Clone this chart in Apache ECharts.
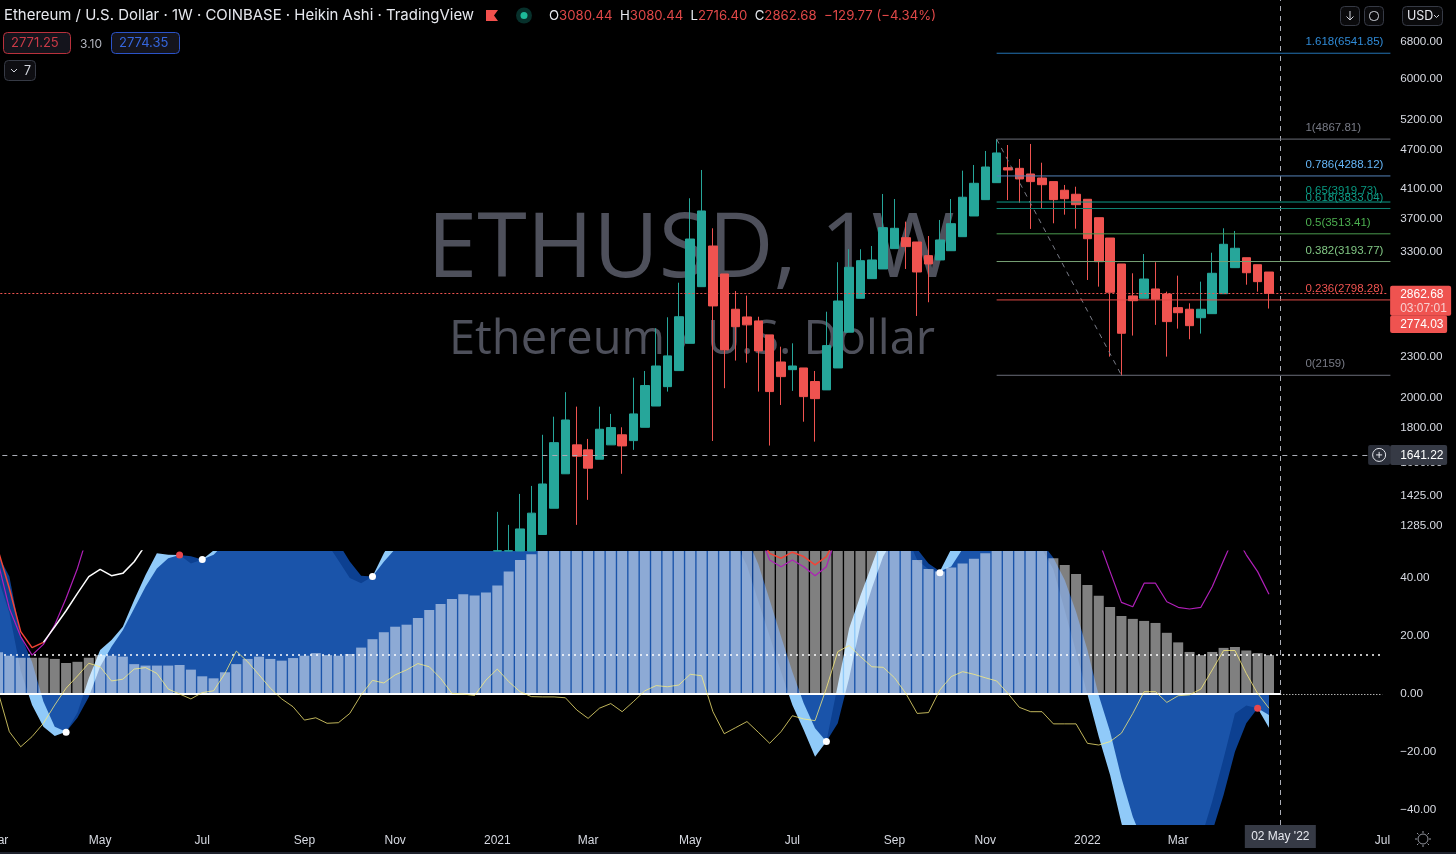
<!DOCTYPE html>
<html>
<head>
<meta charset="utf-8">
<style>
  html, body { margin: 0; padding: 0; background: #000; }
  #main { width: 1456px; height: 854px; }
</style>
<script src="https://cdn.jsdelivr.net/npm/echarts@6/dist/echarts.min.js"></script>
</head>
<body>
<div id="main"></div>
<script>
// weekly bars, first one is 02 Mar 2020
var firstWeek = Date.UTC(2020, 2, 2);
var weekCount = 123;
var monthNames = ['Jan', 'Feb', 'Mar', 'Apr', 'May', 'Jun', 'Jul', 'Aug', 'Sep', 'Oct', 'Nov', 'Dec'];

var xTickIndex = [0, 9, 18, 27, 35, 44, 52, 61, 70, 79, 87, 96, 104, 122];
var xTickLabel = ['Mar', 'May', 'Jul', 'Sep', 'Nov', '2021', 'Mar', 'May', 'Jul', 'Sep', 'Nov', '2022', 'Mar', 'Jul'];
var priceTicks = [6800, 6000, 5200, 4700, 4100, 3700, 3300, 2600, 2300, 2000, 1800, 1600, 1425, 1285];
var oscTicks = [40, 20, 0, -20, -40];

// candles start at bar 44, the older ones are below the pane
// the first four bodies run under the lower pane, so they stop at the pane edge (1179)
var candleStart = 44;
var candleOpen = [1179,1179,1179,1179,1248,1366,1538,1699,1670,1617,1699,1759,1724,1805,1942,2076,2194,2410,2929,3369,3060,2710,2639,2603,2481,2260,2201,2214,2113,2053,2214,2504,2814,3011,3113,3339,3467,3416,3259,3211,3315,3479,3736,3952,4190,4411,4402,4317,4258,4205,4082,4026,3957,3714,3463,3167,2837,2814,2906,2856,2725,2710,2632,2669,2859,3127,3236,3159,3080.44];
var candleClose = [1180,1180,1272,1343,1485,1712,1851,1634,1568,1793,1803,1693,1890,2084,2229,2308,2641,3451,3801,2741,2356,2552,2568,2348,2041,2149,2229,2006,1992,2391,2788,3131,3203,3211,3589,3581,3362,3081,3167,3440,3638,3985,4181,4422,4641,4377,4244,4205,4161,3952,3965,3884,3455,3192,2873,2495,2791,3007,2805,2597,2678,2561,2710,3067,3389,3343,3073,2980,2862.68];
var candleLow = [1179,1179,1179,1179,1248,1366,1538,1290,1406,1617,1699,1538,1670,1805,1942,2041,2194,2410,2929,1722,2065,2271,2255,2041,1695,1949,2046,1840,1718,2053,2214,2504,2814,3011,3113,3339,3113,2648,2776,3211,3315,3479,3736,3952,4190,3947,3911,3573,3827,3643,3753,3576,2997,2929,2302,2156,2475,2814,2568,2302,2535,2444,2492,2669,2859,3127,2949,2879,2716.40];
var candleHigh = [1349,1290,1435,1475,1759,1872,2037,1938,1734,1938,1890,1805,2141,2191,2538,2636,2969,3971,4377,3581,3060,2886,2840,2641,2481,2382,2410,2214,2191,2687,3186,3332,3332,3369,4030,3961,3664,3416,3487,3685,3961,4367,4453,4673,4869,4770,4546,4787,4488,4205,4157,4132,3957,3714,3463,3167,3067,3277,3186,2879,3042,2766,2980,3292,3581,3548,3236,3159,3080.44];

// fib levels
var fibRatio = ['1.618', '1', '0.786', '0.65', '0.618', '0.5', '0.382', '0.236', '0'];
var fibPrice = ['6541.85', '4867.81', '4288.12', '3919.73', '3833.04', '3513.41', '3193.77', '2798.28', '2159'];
var fibColor = ['#2f8ad6', '#787b86', '#64b5f6', '#089981', '#0f9d88', '#4caf50', '#81c784', '#ef5350', '#787b86'];
var fibLineColor = ['#2372b4', '#6a6d78', '#5583b8', '#0e9a89', '#0f8474', '#4a9a4e', '#76a174', '#e04a46', '#6a6d78'];

// oscillator pane
var histValues = [14.4,13.2,12.5,12.5,12.5,12.1,10.7,11.1,12.5,13.4,13.2,12.9,10.3,9.8,9.8,9.8,10,8.4,6.1,5.4,7.5,10.3,12.1,12.9,12.1,11.5,12.4,13.2,14.1,13.4,13.2,13.8,16,18.9,21.3,23.2,23.9,26.2,29,31,32.8,34.4,34,35,37.4,42.2,46.2,48.2,52,55,58,60,62,64,66,68,69,70,71,72,73,72,71,70,69,68,67,66,65,64,63,62,61,60,59,58,57,55,53,51,50,46.2,43.1,42.2,43.6,45,46.6,48.5,50,52,53,52,50,46.8,44.5,41.4,37.6,33.9,30,26.9,25.9,25.2,24.5,21.1,17.8,14.5,13.4,14.5,15.9,16.2,15,14.1,13.4];
var wave1 = [40,28,8,-3.8,-11.3,-14.5,-13,-6.5,5.4,15.2,18.6,23.2,32.4,41,48.5,48,47.9,45,46.4,49.5,55,60,64,66,68,68,66,62,57,52,46,40,38.2,40.5,48.5,55,60,66,71,74,76,77,78,79,80,81,82,82,83,84,84,85,84,84,83,83,82,81,80,78,76,72,67,62,56,52,44.3,32,20,7.7,-3.8,-12.4,-21.6,-16.4,3,22.6,34,44.5,55,60,55,46.2,43,42.3,50,54,58,62,64,64,62,55,50,43,29,14.6,0,-14.7,-27.9,-44.6,-58,-64,-66,-66,-62,-56,-50,-37,-22.2,-6.7,-4,-4.9,-11.6];
var wave2 = [48,40.5,20.3,11,-2.6,-11.3,-13,-8.2,-1,9.4,16.3,22,29.5,37,43.3,46.8,47.9,47.5,46.4,48,52,56,60,63,66,68,68,66,62,58,52,45.7,40.8,40.5,45.6,50,55,60,65,69,72,74,75,76,77,78,79,80,80,81,82,82,83,83,83,83,82,82,81,80,78,76,72,68,62,58,54,44.7,32.4,19.8,7.7,-3.2,-11.8,-16.4,-10.1,5.4,23.8,36.4,47.4,54,56,50,45,42.3,44,50,54,58,62,64,63,60,52,47,39.3,28.4,15.2,-0.5,-13,-29,-42.3,-52,-58,-62,-64,-62,-56,-47.5,-34.8,-19.9,-10.1,-4.9,-7.2];
var yellowLine = [0.8,-13,-18.2,-14.7,-10.1,-3.8,2,6.2,10.6,9.4,4.5,5.1,8.6,9.1,7.1,1.7,0,-1.7,0.5,1.1,7.1,14.8,11.1,6.6,2,-1.7,-4.4,-9,-8.2,-10.1,-9.9,-6.7,-0.3,4.7,3.8,6.6,8.3,10.5,9.4,5.4,0.2,0,-0.5,4.8,8.6,4.3,0.8,-0.9,-1,-1,-1.3,-5.5,-8.4,-4.9,-3.3,-6.1,-2.6,1.1,2.9,2.5,3.1,6.8,6.3,-6.1,-13.7,-11.6,-9.5,-13.2,-17,-13,-7.5,-8.6,-9.2,2,14.6,16.7,12.9,9.4,9.2,5.6,0.2,-6.7,-6.4,1.4,6,7.7,6.8,5.6,4.5,0.2,-4.6,-6.1,-6.1,-10.3,-10.3,-10.3,-17,-17.6,-16.4,-13.5,-6.7,0.8,0.8,-2.9,-0.6,-0.3,1.7,8.3,15,15,7.1,0.2,-4.9];

// the upper lines leave the pane, only the visible stretches are kept as [bar, value]
var magentaLine = [[0,45.6],[1,29.5],[2,19.8],[3,13.4],[4,17.1],[5,23.8],[6,33],[7,43.3],[8,56],null,[67,56],[68,46.2],[69,43.9],[70,46.2],[71,43.9],[72,40.8],[73,43.9],[74,56],null,[96,60],[97,53],[98,42.2],[99,31.6],[100,30.1],[101,38.2],[102,38.2],[103,31.8],[104,29.9],[105,29.3],[106,29.9],[107,37],[108,46],[109,55],[110,48],[111,42.2],[112,34.4]];
var redLine = [[0,49.7],[1,36.4],[2,21.5],[3,16],[4,17.8],null,[67,55],[68,48.5],[69,46.8],[70,48.9],[71,47.4],[72,44.5],[73,47.4],[74,55]];
var whiteLine = [[4,17.8],[5,23.2],[6,28.7],[7,34.7],[8,40.5],[9,43],[10,40.8],[11,41.6],[12,45.6],[13,51.4]];
var whiteDots = [[6,-13.2],[18,46.4],[33,40.5],[73,-16.4],[83,41.8]];
var redDots = [[16,47.9],[111,-4.9]];

var lastClose = 2862.68;
var lastHeikin = 2774.03;
var crossPrice = 1641.22;
var crossBar = 113;

var categories = [];
for (var w = 0; w < weekCount; w++) {
    var d = new Date(firstWeek + w * 7 * 86400000);
    categories.push(('0' + d.getUTCDate()).slice(-2) + ' ' + monthNames[d.getUTCMonth()] + " '" + String(d.getUTCFullYear()).slice(2));
}

var candleData = [];
for (var c = 0; c < candleStart; c++) {
    candleData.push(['-', '-', '-', '-']);
}
for (var k = 0; k < candleOpen.length; k++) {
    candleData.push([candleOpen[k], candleClose[k], candleLow[k], candleHigh[k]]);
}

var UP = '#26a69a';
var DOWN = '#ef5350';
var AXIS_TEXT = '#d7dae2';
var AXIS_FONT = '"Liberation Sans", sans-serif';
var HEAD_FONT = 'Inter, sans-serif';

function pairData(list) {
    return list.map(function (p) {
        return p ? [categories[p[0]], p[1]] : [null, null];
    });
}

function box(x, y, w, h, stroke, fill) {
    return {
        type: 'rect', z: 20, silent: true,
        shape: { x: x, y: y, width: w, height: h, r: 4 },
        style: { fill: fill || 'none', stroke: stroke, lineWidth: 1 }
    };
}

function label(x, y, text, color, size, font) {
    return {
        type: 'text', z: 21, silent: true, x: x, y: y,
        style: { text: text, fill: color, font: (size || 13) + 'px ' + (font || HEAD_FONT), textVerticalAlign: 'middle' }
    };
}

function stroke(shapeType, shape, color, width) {
    return {
        type: shapeType, z: 21, silent: true, shape: shape,
        style: { fill: 'none', stroke: color, lineWidth: width || 1 }
    };
}

var graphics = [
    // watermark
    { type: 'text', z: -1, silent: true, x: 691, y: 251, style: { text: 'ETHUSD, 1W', fill: '#4e505b', font: '90px "Open Sans", sans-serif', textAlign: 'center', textVerticalAlign: 'middle' } },
    { type: 'text', z: -1, silent: true, x: 692, y: 341, style: { text: 'Ethereum / U.S. Dollar', fill: '#4e505b', font: '47px "Open Sans", sans-serif', textAlign: 'center', textVerticalAlign: 'middle' } },

    // header
    label(4, 15.5, 'Ethereum / U.S. Dollar · 1W · COINBASE · Heikin Ashi · TradingView', '#e6e8ee', 14.95),
    { type: 'polygon', z: 21, silent: true, shape: { points: [[486, 10], [498, 10], [494, 15.5], [498, 21], [486, 21]] }, style: { fill: '#f2504d' } },
    { type: 'circle', z: 21, silent: true, shape: { cx: 524, cy: 15.5, r: 8 }, style: { fill: '#07302b' } },
    { type: 'circle', z: 21, silent: true, shape: { cx: 524, cy: 15.5, r: 3.5 }, style: { fill: '#1db999' } },
    {
        type: 'text', z: 21, silent: true, x: 549, y: 16,
        style: {
            text: '{w|O}{r|3080.44}  {w|H}{r|3080.44}  {w|L}{r|2716.40}  {w|C}{r|2862.68}  {r|−129.77 (−4.34%)}',
            font: '13.2px ' + HEAD_FONT, textVerticalAlign: 'middle',
            rich: {
                w: { fill: '#e6e8ee', font: '13.2px ' + HEAD_FONT },
                r: { fill: '#e04848', font: '13.2px ' + HEAD_FONT }
            }
        }
    },

    // bid / ask boxes
    box(3.5, 32.5, 67, 21, '#b8313c', '#14141c'),
    label(11, 43.5, '2771.25', '#c93a47', 13),
    label(80, 44, '3.10', '#b2b5be', 12),
    box(111.5, 32.5, 68, 21, '#2b53c8', '#14141c'),
    label(119, 43.5, '2774.35', '#3566dd', 13),
    box(4.5, 60.5, 31, 20, '#363a45', '#0e0e12'),
    { type: 'polyline', z: 21, silent: true, shape: { points: [[11, 69], [14, 72], [17, 69]] }, style: { fill: 'none', stroke: '#d1d4dc', lineWidth: 1 } },
    label(24, 71, '7', '#d1d4dc', 12.5),

    // top right buttons
    box(1340.5, 6.5, 19, 19, '#363a45', '#0a0a0c'),
    stroke('line', { x1: 1350, y1: 11, x2: 1350, y2: 20 }, '#d1d4dc'),
    { type: 'polyline', z: 21, silent: true, shape: { points: [[1346.5, 16.5], [1350, 20], [1353.5, 16.5]] }, style: { fill: 'none', stroke: '#d1d4dc', lineWidth: 1 } },
    box(1364.5, 6.5, 19, 19, '#363a45', '#0a0a0c'),
    box(1369.5, 11.5, 9, 9, '#d1d4dc'),
    box(1402.5, 6.5, 40, 19, '#363a45', '#0a0a0c'),
    label(1407, 16, 'USD', '#e6e8ee', 12.5),
    { type: 'polyline', z: 21, silent: true, shape: { points: [[1434, 15], [1436.5, 17.5], [1439, 15]] }, style: { fill: 'none', stroke: '#d1d4dc', lineWidth: 1 } },

    // settings gear bottom right
    stroke('circle', { cx: 1423, cy: 839, r: 5 }, '#9598a1'),
    stroke('line', { x1: 1423, y1: 831, x2: 1423, y2: 833 }, '#9598a1'),
    stroke('line', { x1: 1423, y1: 845, x2: 1423, y2: 847 }, '#9598a1'),
    stroke('line', { x1: 1415, y1: 839, x2: 1417, y2: 839 }, '#9598a1'),
    stroke('line', { x1: 1429, y1: 839, x2: 1431, y2: 839 }, '#9598a1'),
    stroke('line', { x1: 1417, y1: 833, x2: 1418.5, y2: 834.5 }, '#9598a1'),
    stroke('line', { x1: 1429, y1: 833, x2: 1427.5, y2: 834.5 }, '#9598a1'),
    stroke('line', { x1: 1417, y1: 845, x2: 1418.5, y2: 843.5 }, '#9598a1'),
    stroke('line', { x1: 1429, y1: 845, x2: 1427.5, y2: 843.5 }, '#9598a1'),
    { type: 'rect', z: 20, silent: true, shape: { x: 0, y: 852, width: 1456, height: 2 }, style: { fill: '#1e222d' } }
];

var myChart = echarts.init(document.getElementById('main'));

var option = {
    animation: false,
    backgroundColor: '#000000',
    textStyle: { fontFamily: AXIS_FONT },
    graphic: { elements: graphics },
    grid: [
        { left: -7.67, top: 0, width: 1395.8, height: 551, outerBoundsMode: 'none' },
        { left: -7.67, top: 551, width: 1395.8, height: 274, outerBoundsMode: 'none' }
    ],
    xAxis: [
        { type: 'category', gridIndex: 0, data: categories, show: false },
        {
            type: 'category', gridIndex: 1, data: categories,
            axisLine: { show: false }, axisTick: { show: false }, splitLine: { show: false },
            axisLabel: {
                color: AXIS_TEXT, fontSize: 12, margin: 10, fontFamily: AXIS_FONT,
                showMinLabel: true, showMaxLabel: true,
                interval: function (i) { return xTickIndex.indexOf(i) >= 0; },
                formatter: function (v, i) { return xTickLabel[xTickIndex.indexOf(i)] || ''; }
            }
        }
    ],
    yAxis: [
        {
            type: 'log', logBase: 10, gridIndex: 0, position: 'right', min: 1179, max: 7858,
            axisLine: { show: false }, axisTick: { show: false }, splitLine: { show: false }, minorTick: { show: false }, minorSplitLine: { show: false },
            axisLabel: {
                color: AXIS_TEXT, fontSize: 11.7, margin: 12, fontFamily: AXIS_FONT, padding: [5, 0, 0, 0],
                customValues: priceTicks,
                formatter: function (v) { return Number(v).toFixed(2); }
            }
        },
        {
            type: 'value', gridIndex: 1, position: 'right', min: -45.17, max: 49.31,
            axisLine: { show: false }, axisTick: { show: false }, splitLine: { show: false },
            axisLabel: {
                color: AXIS_TEXT, fontSize: 11.7, margin: 12, fontFamily: AXIS_FONT, padding: [5, 0, 0, 0],
                customValues: oscTicks,
                formatter: function (v) { return Number(v).toFixed(2).replace('-', '−'); }
            }
        }
    ],
    series: [
        {
            name: 'ETHUSD', type: 'candlestick', xAxisIndex: 0, yAxisIndex: 0, z: 4, clip: true,
            data: candleData, barWidth: 9,
            itemStyle: { color: UP, color0: DOWN, borderColor: UP, borderColor0: DOWN, borderWidth: 1 },
            markLine: {
                silent: true, symbol: 'none', animation: false, label: { show: false },
                data: [
                    { yAxis: lastClose, lineStyle: { color: '#ef5350', type: [2, 2], width: 1 } },
                    { yAxis: crossPrice, lineStyle: { color: '#a9acb5', type: [5, 5], width: 1 } },
                    { xAxis: categories[crossBar], lineStyle: { color: '#a9acb5', type: [5, 5], width: 1 } },
                    [
                        { coord: [categories[88], Number(fibPrice[1])], lineStyle: { color: '#787b86', type: [5, 5], width: 1 } },
                        { coord: [categories[99], Number(fibPrice[8])] }
                    ]
                ]
            }
        },
        {
            // fib levels, drawn from bar 88 to the right edge of the grid
            name: 'fib', type: 'custom', xAxisIndex: 0, yAxisIndex: 0, z: 5, silent: true,
            data: fibPrice.map(function (p) { return [88, Number(p)]; }),
            encode: { x: 0, y: 1 },
            renderItem: function (params, api) {
                var i = params.dataIndex;
                var from = api.coord([api.value(0), api.value(1)]);
                var end = api.coord([122, api.value(1)])[0] + api.size([1, 0])[0] * 0.7;
                return {
                    type: 'group',
                    children: [
                        {
                            type: 'line',
                            shape: { x1: from[0], y1: from[1], x2: end, y2: from[1] },
                            style: { stroke: fibLineColor[i], lineWidth: 1 }
                        },
                        {
                            type: 'text', x: end - 85, y: from[1] - 11,
                            style: { text: fibRatio[i] + '(' + fibPrice[i] + ')', fill: fibColor[i], font: '11.5px ' + AXIS_FONT, textVerticalAlign: 'middle' }
                        }
                    ]
                };
            }
        },
        {
            // price tags on the scale
            name: 'tags', type: 'custom', xAxisIndex: 0, yAxisIndex: 0, z: 10, silent: true,
            data: [[122, lastClose], [122, lastHeikin], [122, crossPrice]],
            encode: { x: 0, y: 1 },
            renderItem: function (params, api) {
                var i = params.dataIndex;
                var y = api.coord([api.value(0), api.value(1)])[1];
                var left = params.coordSys.x + params.coordSys.width + 2;
                if (i === 0) {
                    return {
                        type: 'group', children: [
                            { type: 'rect', shape: { x: left, y: y - 7.5, width: 61, height: 30, r: 2 }, style: { fill: '#ef5350' } },
                            { type: 'text', x: left + 10, y: y + 1.5, style: { text: String(lastClose.toFixed(2)), fill: '#ffffff', font: '12px ' + AXIS_FONT, textVerticalAlign: 'middle' } },
                            { type: 'text', x: left + 10, y: y + 15, style: { text: '03:07:01', fill: '#f8d0d0', font: '12px ' + AXIS_FONT, textVerticalAlign: 'middle' } }
                        ]
                    };
                }
                if (i === 1) {
                    return {
                        type: 'group', children: [
                            { type: 'rect', shape: { x: left, y: y + 13, width: 57, height: 17.5, r: 2 }, style: { fill: '#ef5350' } },
                            { type: 'text', x: left + 10, y: y + 22, style: { text: String(lastHeikin.toFixed(2)), fill: '#ffffff', font: '12px ' + AXIS_FONT, textVerticalAlign: 'middle' } }
                        ]
                    };
                }
                return {
                    type: 'group', children: [
                        { type: 'rect', shape: { x: left - 22, y: y - 10, width: 22, height: 20, r: 2 }, style: { fill: '#2a2e39' } },
                        { type: 'circle', shape: { cx: left - 11, cy: y, r: 6.5 }, style: { fill: 'none', stroke: '#e6e8ee', lineWidth: 1 } },
                        { type: 'line', shape: { x1: left - 14, y1: y, x2: left - 8, y2: y }, style: { stroke: '#e6e8ee', lineWidth: 1 } },
                        { type: 'line', shape: { x1: left - 11, y1: y - 3, x2: left - 11, y2: y + 3 }, style: { stroke: '#e6e8ee', lineWidth: 1 } },
                        { type: 'rect', shape: { x: left, y: y - 10, width: 57, height: 20, r: 2 }, style: { fill: '#363a45' } },
                        { type: 'text', x: left + 10, y: y + 1, style: { text: String(crossPrice.toFixed(2)), fill: '#ffffff', font: '12px ' + AXIS_FONT, textVerticalAlign: 'middle' } }
                    ]
                };
            }
        },
        {
            name: 'wave1', type: 'line', xAxisIndex: 1, yAxisIndex: 1, z: 2, data: wave1,
            showSymbol: false, lineStyle: { width: 0 }, itemStyle: { opacity: 0 }, silent: true,
            areaStyle: { color: '#90caf9', opacity: 1 }
        },
        {
            name: 'wave2', type: 'line', xAxisIndex: 1, yAxisIndex: 1, z: 3, data: wave2,
            showSymbol: false, lineStyle: { width: 0 }, itemStyle: { opacity: 0 }, silent: true,
            areaStyle: { color: '#0d47a1', opacity: 0.9 }
        },
        {
            name: 'hist', type: 'bar', xAxisIndex: 1, yAxisIndex: 1, z: 4, data: histValues, barWidth: 10, silent: true,
            itemStyle: { color: 'rgba(255,255,255,0.5)' },
            markLine: {
                silent: true, symbol: 'none', animation: false, label: { show: false },
                data: [
                    { xAxis: categories[crossBar], lineStyle: { color: '#a9acb5', type: [5, 5], width: 1 } },
                    [
                        { coord: [categories[0], 0], lineStyle: { color: '#ffffff', type: 'solid', width: 2 } },
                        { coord: [categories[crossBar], 0] }
                    ],
                    [
                        { coord: [categories[crossBar], 0], lineStyle: { color: '#ffffff', type: [1, 2], width: 1 } },
                        { coord: [categories[122], 0] }
                    ],
                    [
                        { coord: [categories[0], histValues[histValues.length - 1]], lineStyle: { color: '#ffffff', type: [2, 4], width: 1.5 } },
                        { coord: [categories[122], histValues[histValues.length - 1]] }
                    ]
                ]
            }
        },
        {
            name: 'yellow', type: 'line', xAxisIndex: 1, yAxisIndex: 1, z: 5, data: yellowLine,
            showSymbol: false, silent: true, lineStyle: { color: 'rgba(255,240,120,0.75)', width: 1 }
        },
        {
            name: 'magenta', type: 'line', xAxisIndex: 1, yAxisIndex: 1, z: 5, data: pairData(magentaLine),
            showSymbol: false, silent: true, connectNulls: false, lineStyle: { color: '#b01fb8', width: 1.2 }
        },
        {
            name: 'red', type: 'line', xAxisIndex: 1, yAxisIndex: 1, z: 6, data: pairData(redLine),
            showSymbol: false, silent: true, connectNulls: false, lineStyle: { color: '#f44336', width: 1.5 }
        },
        {
            name: 'white', type: 'line', xAxisIndex: 1, yAxisIndex: 1, z: 6, data: pairData(whiteLine),
            showSymbol: false, silent: true, lineStyle: { color: '#ffffff', width: 1.5 }
        },
        {
            name: 'dotsWhite', type: 'scatter', xAxisIndex: 1, yAxisIndex: 1, z: 7, silent: true,
            data: pairData(whiteDots), symbolSize: 7, itemStyle: { color: '#ffffff', opacity: 1 }
        },
        {
            name: 'dotsRed', type: 'scatter', xAxisIndex: 1, yAxisIndex: 1, z: 7, silent: true,
            data: pairData(redDots), symbolSize: 7, itemStyle: { color: '#e8474c', opacity: 1 }
        },
        {
            // date tag under the crosshair
            name: 'dateTag', type: 'custom', xAxisIndex: 1, yAxisIndex: 1, z: 10, silent: true,
            data: [[crossBar, -45.17]],
            encode: { x: 0, y: 1 },
            renderItem: function (params, api) {
                var p = api.coord([api.value(0), api.value(1)]);
                return {
                    type: 'group', children: [
                        { type: 'rect', shape: { x: p[0] - 35.5, y: p[1], width: 71, height: 23 }, style: { fill: '#363a45' } },
                        { type: 'text', x: p[0], y: p[1] + 12, style: { text: categories[crossBar], fill: '#e6e8ee', font: '12px ' + AXIS_FONT, textAlign: 'center', textVerticalAlign: 'middle' } }
                    ]
                };
            }
        }
    ]
};

option && myChart.setOption(option);
</script>
</body>
</html>
